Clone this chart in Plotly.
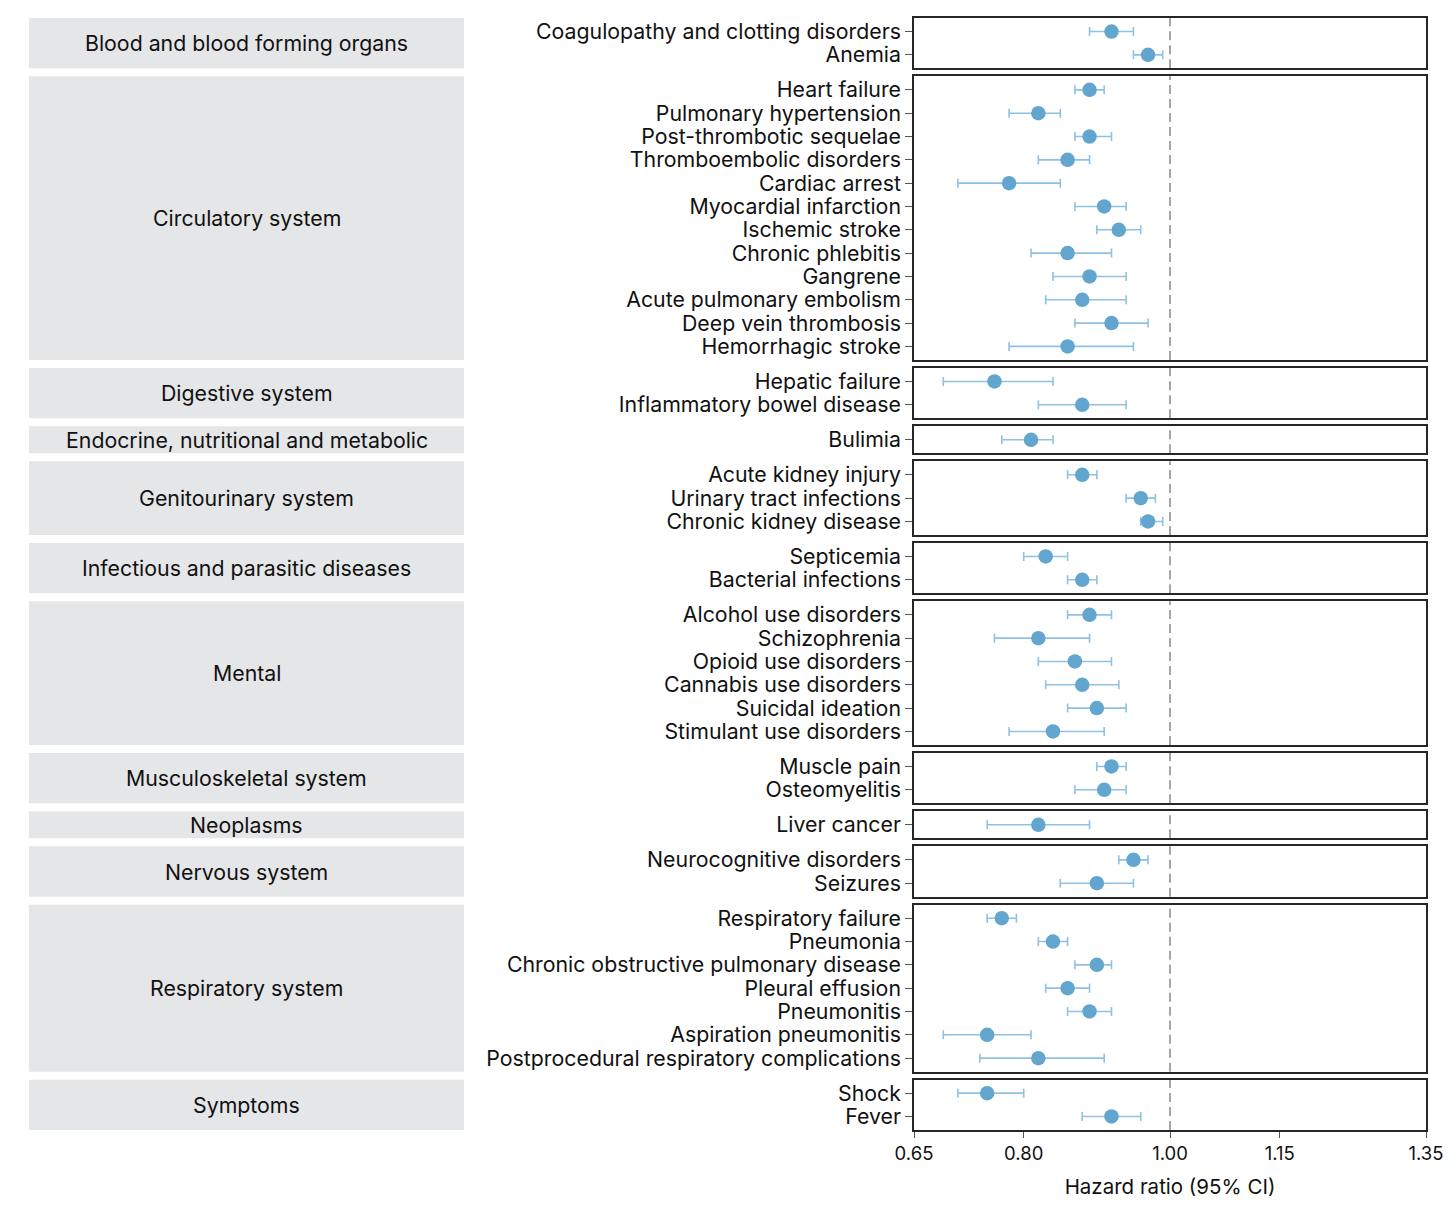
import plotly.graph_objects as go
from plotly.subplots import make_subplots

# ---------------- data ----------------
groups = [
    "Blood and blood forming organs",
    "Circulatory system",
    "Digestive system",
    "Endocrine, nutritional and metabolic",
    "Genitourinary system",
    "Infectious and parasitic diseases",
    "Mental",
    "Musculoskeletal system",
    "Neoplasms",
    "Nervous system",
    "Respiratory system",
    "Symptoms",
]

conditions = [
    ["Coagulopathy and clotting disorders", "Anemia"],
    ["Heart failure", "Pulmonary hypertension", "Post-thrombotic sequelae",
     "Thromboembolic disorders", "Cardiac arrest", "Myocardial infarction",
     "Ischemic stroke", "Chronic phlebitis", "Gangrene",
     "Acute pulmonary embolism", "Deep vein thrombosis", "Hemorrhagic stroke"],
    ["Hepatic failure", "Inflammatory bowel disease"],
    ["Bulimia"],
    ["Acute kidney injury", "Urinary tract infections", "Chronic kidney disease"],
    ["Septicemia", "Bacterial infections"],
    ["Alcohol use disorders", "Schizophrenia", "Opioid use disorders",
     "Cannabis use disorders", "Suicidal ideation", "Stimulant use disorders"],
    ["Muscle pain", "Osteomyelitis"],
    ["Liver cancer"],
    ["Neurocognitive disorders", "Seizures"],
    ["Respiratory failure", "Pneumonia", "Chronic obstructive pulmonary disease",
     "Pleural effusion", "Pneumonitis", "Aspiration pneumonitis",
     "Postprocedural respiratory complications"],
    ["Shock", "Fever"],
]

hazard_ratio = [
    [0.92, 0.97],
    [0.89, 0.82, 0.89, 0.86, 0.78, 0.91, 0.93, 0.86, 0.89, 0.88, 0.92, 0.86],
    [0.76, 0.88],
    [0.81],
    [0.88, 0.96, 0.97],
    [0.83, 0.88],
    [0.89, 0.82, 0.87, 0.88, 0.90, 0.84],
    [0.92, 0.91],
    [0.82],
    [0.95, 0.90],
    [0.77, 0.84, 0.90, 0.86, 0.89, 0.75, 0.82],
    [0.75, 0.92],
]

ci_low = [
    [0.89, 0.95],
    [0.87, 0.78, 0.87, 0.82, 0.71, 0.87, 0.90, 0.81, 0.84, 0.83, 0.87, 0.78],
    [0.69, 0.82],
    [0.77],
    [0.86, 0.94, 0.96],
    [0.80, 0.86],
    [0.86, 0.76, 0.82, 0.83, 0.86, 0.78],
    [0.90, 0.87],
    [0.75],
    [0.93, 0.85],
    [0.75, 0.82, 0.87, 0.83, 0.86, 0.69, 0.74],
    [0.71, 0.88],
]

ci_high = [
    [0.95, 0.99],
    [0.91, 0.85, 0.92, 0.89, 0.85, 0.94, 0.96, 0.92, 0.94, 0.94, 0.97, 0.95],
    [0.84, 0.94],
    [0.84],
    [0.90, 0.98, 0.99],
    [0.86, 0.90],
    [0.92, 0.89, 0.92, 0.93, 0.94, 0.91],
    [0.94, 0.94],
    [0.89],
    [0.97, 0.95],
    [0.79, 0.86, 0.92, 0.89, 0.92, 0.81, 0.91],
    [0.80, 0.96],
]

x_ticks = [0.65, 0.80, 1.00, 1.15, 1.35]
x_tick_labels = ["0.65", "0.80", "1.00", "1.15", "1.35"]
x_range = [0.65, 1.35]
reference_line = 1.00
x_title = "Hazard ratio (95% CI)"

# ---------------- styling ----------------
W, H = 1456, 1214
M_L, M_R, M_T, M_B = 906, 38, 10, 92
ROW_PX = 23.3
PAD_PX = 3.7
GAP_PX = 8
FONT = "Inter, Roboto, sans-serif"
TXT = 21.3
POINT_COLOR = "#62a6d0"
BAR_COLOR = "#8ec1e3"
BOX_COLOR = "#e5e6e8"
BORDER = "#262626"

n_panels = len(groups)
plot_h = H - M_T - M_B
plot_w = W - M_L - M_R
heights = [len(c) * ROW_PX + PAD_PX for c in conditions]

fig = make_subplots(
    rows=n_panels, cols=1, shared_xaxes=True,
    row_heights=heights, vertical_spacing=GAP_PX / plot_h,
)

box_x0 = (21 - M_L) / plot_w
box_x1 = (456 - M_L) / plot_w

for i in range(n_panels):
    r = i + 1
    n = len(conditions[i])
    ys = list(range(n))
    plus = [h - v for h, v in zip(ci_high[i], hazard_ratio[i])]
    minus = [v - l for v, l in zip(hazard_ratio[i], ci_low[i])]
    fig.add_trace(
        go.Scatter(
            x=hazard_ratio[i], y=ys, mode="markers",
            marker=dict(size=14.5, color=POINT_COLOR),
            error_x=dict(type="data", symmetric=False, array=plus,
                         arrayminus=minus, color=BAR_COLOR, thickness=1.6,
                         width=4.5),
            showlegend=False, hoverinfo="skip",
        ),
        row=r, col=1,
    )
    pad = 0.5 + PAD_PX / (2 * ROW_PX)
    fig.update_yaxes(
        row=r, col=1,
        range=[n - 1 + pad, -pad],
        tickmode="array", tickvals=ys, ticktext=conditions[i],
        ticks="outside", ticklen=7, tickwidth=1, tickcolor="#555555",
        tickfont=dict(family=FONT, size=TXT, color="#111111"),
        showgrid=False, zeroline=False, automargin=False,
        showline=True, linecolor=BORDER, linewidth=1.5, mirror=True,
    )
    fig.update_xaxes(
        row=r, col=1,
        range=x_range, showgrid=False, zeroline=False, automargin=False,
        showline=True, linecolor=BORDER, linewidth=1.5, mirror=True,
        tickmode="array", tickvals=x_ticks, ticktext=x_tick_labels,
        ticks="outside" if r == n_panels else "", ticklen=6,
        tickcolor="#555555", showticklabels=(r == n_panels),
        tickfont=dict(family=FONT, size=18.5, color="#111111"),
    )
    yname = "y" if r == 1 else f"y{r}"
    fig.add_shape(
        type="line", xref="x" if r == 1 else f"x{r}", yref=f"{yname} domain",
        x0=reference_line, x1=reference_line, y0=0, y1=1,
        line=dict(color="#888888", width=1.5, dash="9px,5px"), layer="below",
    )
    fig.add_shape(
        type="rect", xref="paper", yref=f"{yname} domain",
        x0=box_x0, x1=box_x1, y0=0, y1=1,
        fillcolor=BOX_COLOR, line=dict(width=0), layer="below",
    )
    fig.add_annotation(
        xref="paper", yref=f"{yname} domain",
        x=(box_x0 + box_x1) / 2, y=0.5, text=groups[i], showarrow=False,
        font=dict(family=FONT, size=TXT, color="#111111"),
        xanchor="center", yanchor="middle",
    )

fig.update_xaxes(
    row=n_panels, col=1,
    title=dict(text=x_title, standoff=17,
               font=dict(family=FONT, size=20.5, color="#111111")),
)

fig.update_layout(
    width=W, height=H,
    margin=dict(l=M_L, r=M_R, t=M_T, b=M_B, autoexpand=False),
    plot_bgcolor="white", paper_bgcolor="white",
    showlegend=False,
)

fig.write_html("out.html")
